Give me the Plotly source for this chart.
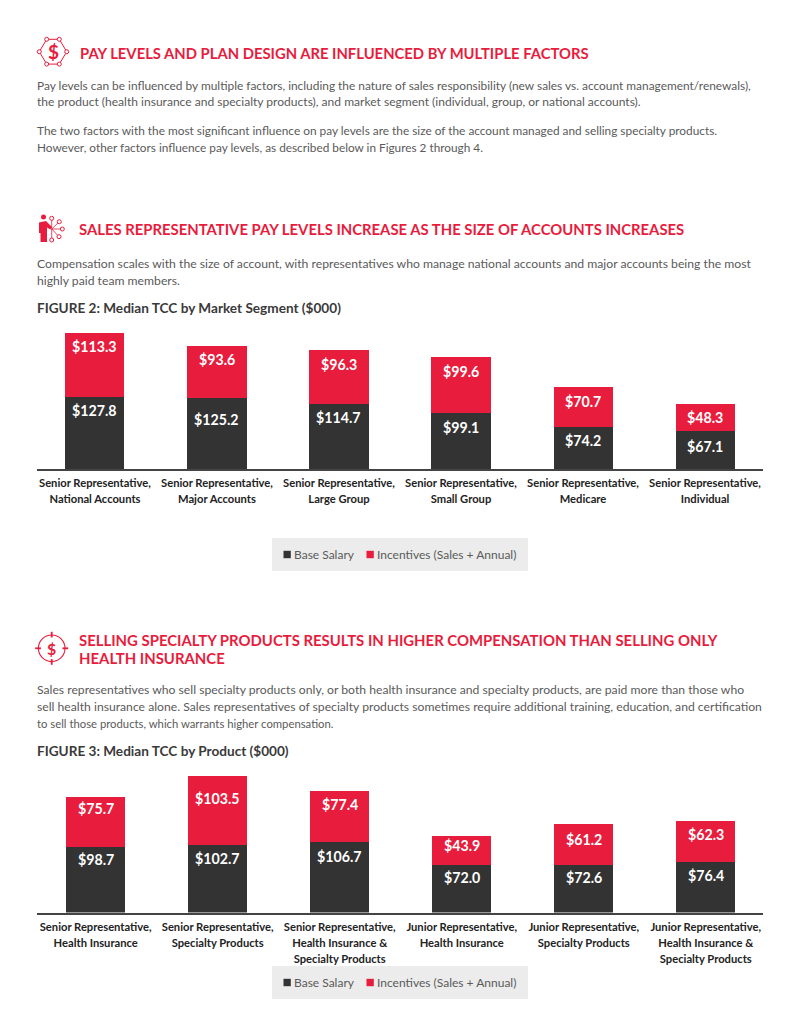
import math
import plotly.graph_objects as go

W, H = 800, 1035
FONT = "Lato"
RED = "#e81c3d"
DARK = "#333333"
BODY = "#5a5a5a"

# Figure 2 data
segments = [
    "Senior Representative,<br>National Accounts",
    "Senior Representative,<br>Major Accounts",
    "Senior Representative,<br>Large Group",
    "Senior Representative,<br>Small Group",
    "Senior Representative,<br>Medicare",
    "Senior Representative,<br>Individual",
]
segment_base = [127.8, 125.2, 114.7, 99.1, 74.2, 67.1]
segment_incentives = [113.3, 93.6, 96.3, 99.6, 70.7, 48.3]

# Figure 3 data
products = [
    "Senior Representative,<br>Health Insurance",
    "Senior Representative,<br>Specialty Products",
    "Senior Representative,<br>Health Insurance &<br>Specialty Products",
    "Junior Representative,<br>Health Insurance",
    "Junior Representative,<br>Specialty Products",
    "Junior Representative,<br>Health Insurance &<br>Specialty Products",
]
product_base = [98.7, 102.7, 106.7, 72.0, 72.6, 76.4]
product_incentives = [75.7, 103.5, 77.4, 43.9, 61.2, 62.3]

series_names = ["Base Salary", "Incentives (Sales + Annual)"]

# Upward nudges (px) of the value labels from the middle of their segments
segment_base_nudge = [22, 14, 19, 14, 8, 4]
segment_inc_nudge = [18, 12, 13, 14, 6, 0]
product_base_nudge = [20, 20, 21, 11, 11, 12]
product_inc_nudge = [14, 12, 12, 5, 5, 7]

# Running text: (x, y, size, colour, bold, text)
text_lines = [
    (80, 53, 14.8, RED, True, "PAY LEVELS AND PLAN DESIGN ARE INFLUENCED BY MULTIPLE FACTORS"),
    (37, 85, 11.9, BODY, False, "Pay levels can be influenced by multiple factors, including the nature of sales responsibility (new sales vs. account management/renewals),"),
    (37, 102, 12.05, BODY, False, "the product (health insurance and specialty products), and market segment (individual, group, or national accounts)."),
    (37, 130, 11.85, BODY, False, "The two factors with the most significant influence on pay levels are the size of the account managed and selling specialty products."),
    (37, 147, 11.8, BODY, False, "However, other factors influence pay levels, as described below in Figures 2 through 4."),
    (79, 229, 14.85, RED, True, "SALES REPRESENTATIVE PAY LEVELS INCREASE AS THE SIZE OF ACCOUNTS INCREASES"),
    (37, 263, 12.2, BODY, False, "Compensation scales with the size of account, with representatives who manage national accounts and major accounts being the most"),
    (37, 280, 12.2, BODY, False, "highly paid team members."),
    (37, 308, 13.6, "#3a3a3a", True, "FIGURE 2: Median TCC by Market Segment ($000)"),
    (79, 640, 14.9, RED, True, "SELLING SPECIALTY PRODUCTS RESULTS IN HIGHER COMPENSATION THAN SELLING ONLY"),
    (79, 658, 14.9, RED, True, "HEALTH INSURANCE"),
    (37, 689, 12.18, BODY, False, "Sales representatives who sell specialty products only, or both health insurance and specialty products, are paid more than those who"),
    (37, 706, 12.18, BODY, False, "sell health insurance alone. Sales representatives of specialty products sometimes require additional training, education, and certification"),
    (37, 723, 11.3, BODY, False, "to sell those products, which warrants higher compensation."),
    (37, 751, 13.6, "#3a3a3a", True, "FIGURE 3: Median TCC by Product ($000)"),
]


def px(x):
    return x / W


def py(y):
    return 1 - y / H


def page_shape(kind, x0, y0, x1, y1, **style):
    return dict(type=kind, xref="paper", yref="paper", x0=px(x0), x1=px(x1), y0=py(y0), y1=py(y1), **style)


def page_path(points, close=False, **style):
    d = "M" + " L".join(f"{px(x):.5f},{py(y):.5f}" for x, y in points) + (" Z" if close else "")
    return dict(type="path", xref="paper", yref="paper", path=d, **style)


def dot(x, y, r):
    return page_shape("circle", x - r, y - r, x + r, y + r, line=dict(color=RED, width=1), fillcolor="white")


def hexagon_icon(cx, cy, rx, ry):
    pts = [(cx + rx, cy), (cx + rx * 0.46, cy - ry), (cx - rx * 0.46, cy - ry),
           (cx - rx, cy), (cx - rx * 0.46, cy + ry), (cx + rx * 0.46, cy + ry)]
    items = [page_path(pts, close=True, line=dict(color=RED, width=1))]
    items += [dot(x, y, 2) for x, y in pts]
    return items


def target_icon(cx, cy, r):
    items = [page_shape("circle", cx - r, cy - r, cx + r, cy + r, line=dict(color=RED, width=1.1))]
    for dx, dy in [(1, 0), (-1, 0), (0, 1), (0, -1)]:
        items.append(page_path([(cx + dx * (r - 2.5), cy + dy * (r - 2.5)), (cx + dx * (r + 3.2), cy + dy * (r + 3.2))],
                               line=dict(color=RED, width=1.8)))
    return items


def person_icon():
    items = [page_shape("circle", 41, 214.5, 46, 219.5, line_width=0, fillcolor=RED)]
    body = [(39, 222.5), (46, 221), (52, 227), (50.5, 229.5), (47, 227.5),
            (47, 242), (40.5, 242), (40.5, 233), (39, 233)]
    items.append(page_path(body, close=True, line_width=0, fillcolor=RED))
    hub = (51.7, 229)
    for nx, ny in [(51.7, 218.3), (59.3, 221.7), (62.3, 229), (59, 236.7), (51.7, 240)]:
        items.append(page_path([hub, (nx, ny)], line=dict(color=RED, width=0.8)))
        items.append(dot(nx, ny, 2))
    return items


def legend_items(top):
    """Grey legend strip with its two colour keys, one copy per chart."""
    mid = top + 16.5
    items = [page_shape("rect", 272, top, 528, top + 33, fillcolor="#ececec", line_width=0, layer="below"),
             page_shape("rect", 283.5, mid - 3.7, 290.8, mid + 3.7, fillcolor=DARK, line_width=0),
             page_shape("rect", 366.5, mid - 3.7, 373.8, mid + 3.7, fillcolor=RED, line_width=0)]
    return items


fig = go.Figure()

panels = [
    dict(base=segment_base, inc=segment_incentives, xa="x", ya="y",
         base_n=segment_base_nudge, inc_n=segment_inc_nudge, legend_top=538),
    dict(base=product_base, inc=product_incentives, xa="x2", ya="y2",
         base_n=product_base_nudge, inc_n=product_inc_nudge, legend_top=966),
]

annotations = []
shapes = []
for panel in panels:
    for name, values, colour in [(series_names[0], panel["base"], DARK), (series_names[1], panel["inc"], RED)]:
        fig.add_trace(go.Bar(x=list(range(6)), y=values, name=name, marker=dict(color=colour, line_width=0),
                             width=0.484, xaxis=panel["xa"], yaxis=panel["ya"], showlegend=False,
                             hoverinfo="skip"))
    for i in range(6):
        b, inc = panel["base"][i], panel["inc"][i]
        for value, mid, nudge in [(b, b / 2, panel["base_n"][i]), (inc, b + inc / 2, panel["inc_n"][i])]:
            annotations.append(dict(x=i, y=mid, xref=panel["xa"], yref=panel["ya"], yshift=nudge,
                                    text=f"<b>${value:.1f}</b>", showarrow=False,
                                    font=dict(family=FONT, size=14.2, color="white")))
    shapes += legend_items(panel["legend_top"])
    mid_y = panel["legend_top"] + 16.5
    for x, name in [(294, series_names[0]), (377, series_names[1])]:
        annotations.append(dict(x=px(x), y=py(mid_y), xref="paper", yref="paper", xanchor="left", yanchor="middle",
                                xshift=-2, text=name, showarrow=False,
                                font=dict(family=FONT, size=12, color=BODY)))

for x, y, size, colour, bold, line in text_lines:
    annotations.append(dict(x=px(x), y=py(y), xref="paper", yref="paper", xanchor="left", yanchor="middle",
                            text=f"<b>{line}</b>" if bold else line, showarrow=False, align="left",
                            xshift=-2, font=dict(family=FONT, size=size, color=colour)))

# Dollar signs inside the section icons
for x, y, size in [(53, 52, 19), (51.7, 648.3, 16)]:
    annotations.append(dict(x=px(x), y=py(y), xref="paper", yref="paper", xanchor="center", yanchor="middle",
                            text="<b>$</b>", showarrow=False, font=dict(family=FONT, size=size, color=RED)))

shapes += hexagon_icon(53, 51.7, 13.7, 12.4) + person_icon() + target_icon(51.7, 648.3, 13.3)


def tick_text(labels):
    # The tick font sets the line pitch; the span sets the glyph size.
    return ['<span style="font-size:11.2px"><b>' + c + "</b></span>" for c in labels]


axis_common = dict(type="linear", tickmode="array", tickvals=list(range(6)),
                   showgrid=False, zeroline=False, showline=True, linecolor="#444444", linewidth=1.5,
                   ticks="", ticklabelstandoff=2, tickfont=dict(family=FONT, size=12.2, color="#222222"),
                   domain=[px(37), px(763)], fixedrange=True)
yaxis_common = dict(visible=False, fixedrange=True)

fig.update_layout(
    width=W, height=H, autosize=False,
    margin=dict(l=0, r=0, t=0, b=0),
    paper_bgcolor="white", plot_bgcolor="white",
    barmode="stack", showlegend=False,
    font=dict(family=FONT),
    annotations=annotations, shapes=shapes,
    xaxis=dict(**axis_common, anchor="y", range=[-0.475, 5.475], ticktext=tick_text(segments)),
    yaxis=dict(**yaxis_common, domain=[py(469), py(320)], range=[0, 149 / 0.564]),
    xaxis2=dict(**axis_common, anchor="y2", range=[-0.481, 5.469], ticktext=tick_text(products)),
    yaxis2=dict(**yaxis_common, domain=[py(912.5), py(770)], range=[0, 142.5 / 0.66]),
)

fig.write_html("out.html", config=dict(displayModeBar=False))
